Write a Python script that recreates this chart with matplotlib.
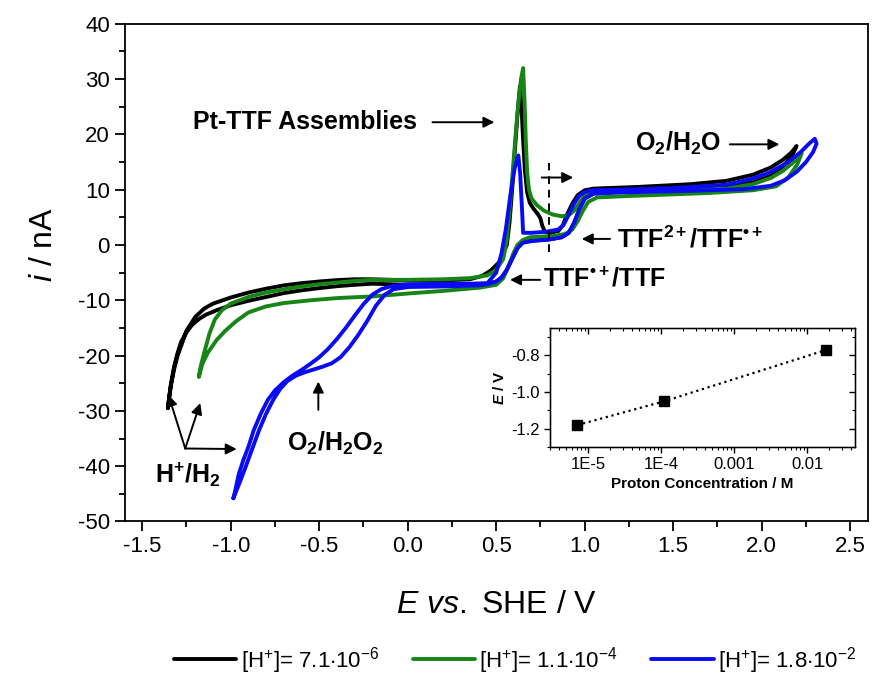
import matplotlib
matplotlib.use("Agg")
import matplotlib.pyplot as plt
import numpy as np
from matplotlib.ticker import MultipleLocator, LogLocator, NullFormatter, FixedLocator, FixedFormatter

plt.rcParams['font.family'] = ['Liberation Sans', 'DejaVu Sans']
plt.rcParams['mathtext.fontset'] = 'custom'
plt.rcParams['mathtext.rm'] = 'Liberation Sans'
plt.rcParams['mathtext.it'] = 'Liberation Sans:italic'
plt.rcParams['mathtext.bf'] = 'Liberation Sans:bold'
plt.rcParams['mathtext.bfit'] = 'Liberation Sans:bold:italic'
plt.rcParams['axes.unicode_minus'] = False

# ---- Data: cyclic voltammograms (E vs SHE in V, i in nA) ----
black_E = [-1.355, -1.345, -1.335, -1.32, -1.30, -1.275, -1.25, -1.2, -1.15, -1.1, -1.0, -0.9, -0.8, -0.7,
           -0.6, -0.5, -0.4, -0.3, -0.2, 0.0, 0.2, 0.35, 0.42, 0.47, 0.52, 0.56, 0.575, 0.59, 0.605, 0.62,
           0.634, 0.643, 0.652, 0.662, 0.675, 0.69, 0.71, 0.735, 0.75, 0.76, 0.775, 0.80, 0.85, 0.875, 0.9,
           0.93, 0.96, 1.0, 1.05, 1.3, 1.6, 1.8, 1.95, 2.05, 2.12, 2.17, 2.197,
           2.17, 2.12, 2.05, 1.95, 1.8, 1.5, 1.2, 1.05, 1.0, 0.97, 0.94, 0.91, 0.87, 0.8, 0.7, 0.65, 0.62,
           0.59, 0.56, 0.53, 0.5, 0.45, 0.3, 0.0, -0.2, -0.3, -0.4, -0.5, -0.6, -0.7, -0.8, -0.9, -1.0,
           -1.08, -1.14, -1.18, -1.22, -1.25, -1.28, -1.30, -1.32, -1.34, -1.355]
black_i = [-29.5, -27.0, -25.0, -22.5, -20.0, -17.8, -15.5, -13.0, -11.5, -10.6, -9.5, -8.6, -7.9, -7.3,
           -6.9, -6.6, -6.35, -6.2, -6.2, -6.4, -6.4, -6.2, -5.6, -4.6, -3.0, 0.0, 4.0, 10.0, 17.0, 23.5,
           28.7, 25.0, 19.0, 13.5, 9.5, 7.6, 6.6, 5.6, 4.8, 3.5, 2.4, 2.2, 2.5, 3.5, 5.5,
           7.5, 9.0, 9.9, 10.2, 10.5, 11.0, 11.6, 12.7, 14.0, 15.4, 16.8, 17.9,
           16.0, 14.2, 12.5, 11.3, 10.6, 10.0, 9.6, 9.3, 8.4, 6.5, 4.0, 2.2, 1.4, 1.0, 0.8, 0.5, -0.5,
           -2.5, -4.5, -5.9, -6.6, -7.1, -7.2, -7.2, -7.0, -7.2, -7.45, -7.8, -8.2, -8.7, -9.4, -10.1, -10.9,
           -11.8, -12.6, -13.4, -14.5, -15.8, -17.5, -19.5, -22.0, -25.5, -29.5]

green_E = [-1.18, -1.17, -1.15, -1.12, -1.09, -1.05, -1.0, -0.9, -0.8, -0.7, -0.6, -0.5, -0.4, -0.3, -0.2,
           0.0, 0.2, 0.35, 0.45, 0.5, 0.54, 0.56, 0.58, 0.60, 0.62, 0.64, 0.652, 0.66, 0.667, 0.675, 0.685,
           0.70, 0.73, 0.77, 0.82, 0.87, 0.91, 0.94, 0.97, 1.0, 1.04, 1.2, 1.5, 1.8, 1.95, 2.05, 2.12,
           2.18, 2.226,
           2.2, 2.15, 2.08, 1.95, 1.7, 1.2, 1.07, 1.02, 0.99, 0.96, 0.93, 0.89, 0.84, 0.75, 0.69, 0.65,
           0.62, 0.597, 0.57, 0.54, 0.5, 0.41, 0.2, 0.03, -0.2, -0.4, -0.55, -0.7, -0.8, -0.9, -0.97,
           -1.03, -1.08, -1.13, -1.16, -1.18]
green_i = [-23.8, -22.0, -19.5, -16.0, -13.5, -11.8, -10.6, -9.4, -8.6, -8.0, -7.5, -7.1, -6.8, -6.5, -6.3,
           -6.3, -6.2, -6.0, -5.5, -4.5, -2.5, 1.0, 8.0, 16.0, 24.0, 30.0, 32.0, 26.0, 19.0, 13.0, 10.0,
           8.4, 7.2, 6.2, 5.5, 5.2, 5.4, 6.2, 7.6, 9.0, 9.8, 9.7, 9.8, 10.2, 11.0, 12.1, 13.4,
           15.0, 16.6,
           14.5, 12.2, 10.6, 9.9, 9.4, 8.8, 8.6, 7.8, 6.2, 4.3, 2.8, 2.0, 1.7, 1.5, 1.4, 0.9,
           0.0, -1.5, -3.8, -6.0, -7.2, -7.7, -8.3, -8.7, -9.3, -9.6, -10.0, -10.5, -11.1, -12.2, -13.8,
           -15.5, -17.2, -19.5, -21.5, -23.8]

blue_E = [-0.985, -0.975, -0.955, -0.93, -0.90, -0.87, -0.83, -0.79, -0.75, -0.70, -0.65, -0.6, -0.55,
          -0.5, -0.45, -0.40, -0.35, -0.30, -0.25, -0.20, -0.15, -0.1, 0.0, 0.2, 0.35, 0.45, 0.50, 0.53,
          0.555, 0.58, 0.605, 0.625, 0.635, 0.645, 0.652, 0.70, 0.785, 0.85, 0.88, 0.91, 0.94, 0.97, 1.0,
          1.05, 1.2, 1.5, 1.8, 1.95, 2.05, 2.15, 2.22, 2.27, 2.30,
          2.31, 2.29, 2.25, 2.2, 2.13, 2.05, 1.9, 1.6, 1.2, 1.05, 1.0, 0.97, 0.94, 0.91, 0.87, 0.8, 0.7,
          0.65, 0.62, 0.59, 0.56, 0.53, 0.5, 0.45, 0.4, 0.2, 0.0, -0.08, -0.13, -0.18, -0.23, -0.28,
          -0.33, -0.38, -0.43, -0.48, -0.53, -0.58, -0.63, -0.68, -0.72, -0.76, -0.80, -0.84, -0.88,
          -0.92, -0.95, -0.985]
blue_i = [-45.8, -44.5, -41.5, -39.0, -36.5, -33.5, -30.5, -28.0, -26.3, -24.8, -23.6, -22.6, -21.5,
          -20.3, -18.8, -17.0, -15.0, -12.8, -10.7, -9.0, -8.0, -7.5, -7.1, -7.0, -7.0, -6.9, -5.0, -1.5,
          3.0, 9.0, 14.0, 16.2, 13.0, 7.0, 2.2, 2.2, 2.4, 2.8, 3.6, 5.5, 7.5, 8.9, 9.6,
          9.9, 10.0, 10.3, 10.9, 12.0, 13.2, 15.0, 16.8, 18.4, 19.2,
          18.3, 16.8, 15.0, 13.3, 11.7, 10.7, 10.1, 9.8, 9.5, 9.3, 8.4, 6.5, 4.0, 2.2, 1.4, 1.0, 0.7,
          0.4, -0.6, -2.5, -4.5, -5.9, -6.6, -7.1, -7.3, -7.5, -7.6, -8.0, -9.0, -11.0, -13.8, -16.3,
          -18.5, -20.3, -21.4, -22.0, -22.5, -23.0, -23.6, -24.6, -26.0, -28.0, -30.5, -33.5, -37.0,
          -40.5, -43.0, -45.8]

labels = [r'[H$^{+}$]= 7.1$\cdot$10$^{-6}$', r'[H$^{+}$]= 1.1$\cdot$10$^{-4}$', r'[H$^{+}$]= 1.8$\cdot$10$^{-2}$']
colors = ['#000000', '#168516', '#0a0af5']

# inset data
conc = [7.1e-6, 1.1e-4, 1.8e-2]
E_onset = [-1.18, -1.05, -0.77]
inset_xticks = [1e-5, 1e-4, 1e-3, 1e-2]
inset_xticklabels = ['1E-5', '1E-4', '0.001', '0.01']
inset_yticks = [-1.2, -1.0, -0.8]
inset_yticklabels = ['-1.2', '-1.0', '-0.8']

fig = plt.figure(figsize=(8.75, 6.8), dpi=100)
ax = fig.add_axes([0.1423, 0.2331, 0.8496, 0.7319])

for E, i, c, lab in zip([black_E, green_E, blue_E], [black_i, green_i, blue_i], colors, labels):
    ax.plot(E, i, color=c, lw=2.8, label=lab, solid_joinstyle='round', solid_capstyle='round')

ax.set_xlim(-1.6, 2.6)
ax.set_ylim(-50, 40)
ax.xaxis.set_major_locator(MultipleLocator(0.5))
ax.xaxis.set_minor_locator(MultipleLocator(0.25))
ax.yaxis.set_major_locator(MultipleLocator(10))
ax.yaxis.set_minor_locator(MultipleLocator(5))
ax.xaxis.set_major_formatter(matplotlib.ticker.FormatStrFormatter('%.1f'))
ax.tick_params(axis='both', which='major', direction='out', length=7, width=1.3, labelsize=16)
ax.tick_params(axis='both', which='minor', direction='out', length=4, width=1.3)
ax.tick_params(top=False, right=False)
for s in ax.spines.values():
    s.set_linewidth(1.3)

ax.set_xlabel(r'$\mathit{E\ vs.}$ SHE / V', fontsize=23, labelpad=24)
ax.set_ylabel(r'$\mathit{i}$ / nA', fontsize=23)
ax.yaxis.set_label_coords(-0.088, 0.556)

arrow_kw = dict(arrowstyle='-|>', color='k', lw=1.4, mutation_scale=16, shrinkA=0, shrinkB=0)
fs = 18

ax.text(-1.213, 22.2, 'Pt-TTF Assemblies', fontsize=fs, fontweight='bold', va='center', ha='left')
ax.annotate('', xy=(0.49, 22.2), xytext=(0.14, 22.2), arrowprops=arrow_kw)

ax.text(1.285, 18.4, r'O$_\mathbf{2}$/H$_\mathbf{2}$O', fontsize=fs, fontweight='bold', va='center', ha='left')
ax.annotate('', xy=(2.10, 18.2), xytext=(1.82, 18.2), arrowprops=arrow_kw)

ax.plot([0.8, 0.8], [-1.3, 14.8], color='k', lw=1.4, ls=(0, (4, 3)))
ax.annotate('', xy=(0.935, 12.2), xytext=(0.757, 12.2), arrowprops=arrow_kw)

ax.text(1.18, 1.1, r'TTF$^{\mathbf{2+}}$/TTF$^{\mathbf{•+}}$', fontsize=fs, fontweight='bold', va='center', ha='left')
ax.annotate('', xy=(0.983, 1.1), xytext=(1.143, 1.1), arrowprops=arrow_kw)

ax.text(0.766, -6.3, r'TTF$^{\mathbf{•+}}$/TTF', fontsize=fs, fontweight='bold', va='center', ha='left')
ax.annotate('', xy=(0.578, -6.3), xytext=(0.748, -6.3), arrowprops=arrow_kw)

ax.text(-0.684, -35.9, r'O$_\mathbf{2}$/H$_\mathbf{2}$O$_\mathbf{2}$', fontsize=fs, fontweight='bold', va='center', ha='left')
ax.annotate('', xy=(-0.505, -24.7), xytext=(-0.505, -29.8), arrowprops=arrow_kw)

ax.text(-1.426, -41.6, r'H$^\mathbf{+}$/H$_\mathbf{2}$', fontsize=fs, fontweight='bold', va='center', ha='left')
for tx, ty in [(-1.352, -27.1), (-1.172, -28.6), (-0.966, -36.9)]:
    ax.annotate('', xy=(tx, ty), xytext=(-1.257, -36.8), arrowprops=arrow_kw)

leg = fig.legend(loc='center', bbox_to_anchor=(0.589, 0.029), ncol=3, frameon=False,
                 prop={'size': 16}, handlelength=2.8, columnspacing=1.5, handletextpad=0.2)

# inset
ins = fig.add_axes([0.6286, 0.3426, 0.3486, 0.175])
ins.plot(conc, E_onset, color='k', ls=':', lw=1.6, marker='s', markersize=7)
ins.set_xscale('log')
ins.set_xlim(3e-6, 0.045)
ins.set_ylim(-1.3, -0.65)
ins.xaxis.set_major_locator(FixedLocator(inset_xticks))
ins.xaxis.set_major_formatter(FixedFormatter(inset_xticklabels))
ins.xaxis.set_minor_locator(LogLocator(base=10, subs=np.arange(2, 10)))
ins.xaxis.set_minor_formatter(NullFormatter())
ins.yaxis.set_major_locator(FixedLocator(inset_yticks))
ins.yaxis.set_major_formatter(FixedFormatter(inset_yticklabels))
ins.yaxis.set_minor_locator(MultipleLocator(0.1))
ins.tick_params(axis='both', which='major', direction='out', length=4, width=1, labelsize=12)
ins.tick_params(axis='both', which='minor', direction='out', length=2, width=0.8)
for s in ins.spines.values():
    s.set_linewidth(1.0)
ins.set_xlabel('Proton Concentration / M', fontsize=11, fontweight='bold', labelpad=3)
ins.set_ylabel(r'$\mathbfit{E}$ / V', fontsize=11, fontweight='bold', labelpad=3)

# inward ticks on the inset's top and right
top = ins.twiny()
top.set_xscale('log')
top.set_xlim(ins.get_xlim())
top.xaxis.set_major_locator(FixedLocator(inset_xticks))
top.xaxis.set_minor_locator(LogLocator(base=10, subs=np.arange(2, 10)))
top.tick_params(axis='x', which='major', direction='in', length=4, width=1, labeltop=False)
top.tick_params(axis='x', which='minor', direction='in', length=2, width=0.8)
right = ins.twinx()
right.set_ylim(ins.get_ylim())
right.yaxis.set_major_locator(FixedLocator(inset_yticks))
right.yaxis.set_minor_locator(MultipleLocator(0.1))
right.tick_params(axis='y', which='major', direction='in', length=4, width=1, labelright=False)
right.tick_params(axis='y', which='minor', direction='in', length=2, width=0.8)

fig.savefig('out.png', dpi=100)
